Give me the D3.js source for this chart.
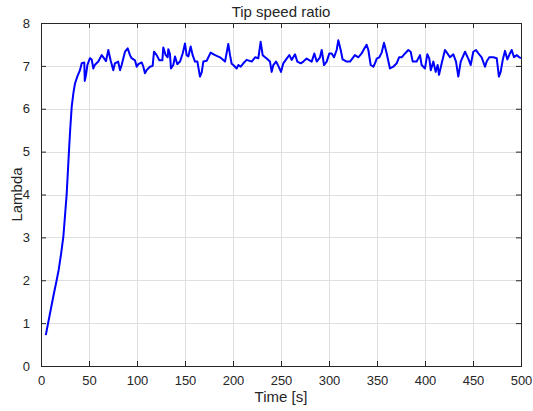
<!DOCTYPE html>
<html>
<head>
<meta charset="utf-8">
<script src="https://cdn.jsdelivr.net/npm/d3@7"></script>
<style>
  body { margin: 0; background: #fff; }
  text { font-family: "Liberation Sans", Arial, sans-serif; fill: #262626; }
</style>
</head>
<body>
<div id="chart"></div>
<script>
// series
const timeS = [5, 9.4, 12.8, 16.3, 18.4, 20.8, 23.3, 26.7, 29.2, 30.5, 32, 33.7, 35.4, 37.8, 40.6, 42.4, 45.1, 45.6, 46.9, 48.3,
  51, 52.8, 54.5, 56, 59.7, 63.2, 65.6, 67.7, 70.1, 72.5, 75.3, 77, 80.4, 82.3, 84, 87.5, 90.3, 92.7, 94.4, 97.9,
  99.7, 101.4, 104.9, 106.6, 108.3, 110, 113.5, 116.3, 117.7, 120.5, 123.3, 126.4, 127.4, 129.9, 132, 132.6, 134.3, 135.4, 137.8, 139.6,
  142, 144.8, 147.6, 150, 151.7, 153.5, 155.9, 158, 160.4, 162.9, 165.6, 167.4, 169.1, 172.6, 176.7, 181.3, 186.5, 191.7, 195.1, 196.9,
  198.6, 200.3, 203.8, 205.6, 208, 210.8, 214.2, 219.5, 223, 226.4, 228.8, 230.9, 235.1, 238.5, 240.3, 242, 244.8, 247.2, 250, 252.4,
  255.9, 258.7, 261.1, 264.6, 267, 270.5, 273.3, 276.7, 282, 284.7, 287.2, 290.6, 292.4, 294.8, 297.6, 300.3, 302.8, 305.2, 308, 309.7,
  312.2, 314.2, 318.4, 321.9, 327, 330.5, 334, 336.4, 339.2, 341, 343.4, 346.2, 347.9, 349.7, 352.4, 354.9, 357.3, 360.1, 363.5, 367,
  370.5, 373, 375.7, 379.2, 382.6, 385.1, 387.2, 391.3, 394.8, 396.5, 400, 402.4, 404.5, 406, 408.7, 411.1, 413.2, 414.6, 417.4, 420.8,
  423.3, 426, 429.5, 432.3, 434.7, 437.2, 441.7, 445.1, 447.6, 450.3, 453.1, 455.6, 459, 462.5, 464.2, 467, 471.2, 474.7, 477, 478.8,
  480.9, 483.3, 485.8, 488.5, 490.3, 492.7, 495.5, 498.3, 500];
const lambda = [0.72, 1.23, 1.62, 2.0, 2.24, 2.6, 3.02, 3.99, 5.04, 5.55, 6.05, 6.36, 6.59, 6.75, 6.9, 7.06, 7.08, 6.65, 6.79, 7.02,
  7.18, 7.15, 6.94, 7.02, 7.1, 7.25, 7.18, 7.11, 7.37, 7.13, 6.9, 7.06, 7.1, 6.9, 7.02, 7.33, 7.41, 7.25, 7.18, 7.13,
  6.98, 7.04, 7.08, 6.98, 6.83, 6.9, 6.98, 7.0, 7.33, 7.25, 7.13, 7.13, 7.43, 7.25, 7.2, 7.39, 7.28, 6.94, 7.02, 7.22,
  7.04, 7.1, 7.29, 7.52, 7.25, 7.22, 7.45, 7.25, 7.1, 7.1, 6.75, 6.85, 7.1, 7.12, 7.31, 7.25, 7.2, 7.1, 7.51, 7.25,
  7.05, 7.02, 6.94, 7.02, 6.98, 7.06, 7.14, 7.1, 7.2, 7.18, 7.56, 7.25, 7.17, 7.1, 6.86, 7.02, 7.1, 7.0, 6.86, 7.06,
  7.17, 7.25, 7.14, 7.27, 7.1, 7.06, 7.1, 7.17, 7.1, 7.29, 7.1, 7.2, 7.37, 7.02, 7.1, 7.29, 7.29, 7.2, 7.37, 7.6,
  7.37, 7.15, 7.1, 7.1, 7.25, 7.2, 7.29, 7.39, 7.49, 7.37, 7.02, 6.98, 7.06, 7.17, 7.2, 7.31, 7.54, 7.29, 6.94, 6.98,
  7.06, 7.2, 7.2, 7.29, 7.37, 7.33, 7.1, 7.1, 7.25, 7.02, 6.94, 7.27, 7.17, 6.9, 7.1, 6.86, 7.02, 6.79, 7.06, 7.37,
  7.29, 7.2, 7.27, 7.1, 6.75, 7.1, 7.33, 7.17, 7.02, 7.33, 7.37, 7.29, 7.2, 6.98, 7.1, 7.2, 7.2, 7.18, 6.75, 6.86,
  7.13, 7.35, 7.15, 7.29, 7.37, 7.2, 7.25, 7.2, 7.18];
const xTicks = [0, 50, 100, 150, 200, 250, 300, 350, 400, 450, 500];
const yTicks = [0, 1, 2, 3, 4, 5, 6, 7, 8];

const width = 533, height = 411;
const margin = { top: 23, right: 12, bottom: 45, left: 41 };

const svg = d3.select('#chart').append('svg')
  .attr('width', width)
  .attr('height', height);

const x = d3.scaleLinear().domain([0, 500]).range([margin.left, width - margin.right]);
const y = d3.scaleLinear().domain([0, 8]).range([height - margin.bottom, margin.top]);

const x0 = x.range()[0], x1 = x.range()[1];
const y0 = y.range()[0], y1 = y.range()[1];

// grid
const grid = svg.append('g').attr('stroke', '#dfdfdf').attr('stroke-width', 1).attr('shape-rendering', 'crispEdges');
grid.selectAll('.gx').data(xTicks.slice(1, -1)).join('line')
  .attr('x1', d => Math.round(x(d)) + 0.5).attr('x2', d => Math.round(x(d)) + 0.5)
  .attr('y1', y1).attr('y2', y0);
grid.selectAll('.gy').data(yTicks.slice(1, -1)).join('line')
  .attr('y1', d => Math.round(y(d)) + 0.5).attr('y2', d => Math.round(y(d)) + 0.5)
  .attr('x1', x0).attr('x2', x1);

// line
const pts = timeS.map((t, i) => [t, lambda[i]]);
const line = d3.line().x(d => x(d[0])).y(d => y(d[1]));
svg.append('path')
  .datum(pts)
  .attr('fill', 'none')
  .attr('stroke', '#0000ff')
  .attr('stroke-width', 2)
  .attr('stroke-linejoin', 'round')
  .attr('d', line);

// axes with inward ticks, box on
const tickLen = 5;
const axisStyle = g => {
  g.select('.domain').remove();
  g.selectAll('.tick line').attr('stroke', '#262626');
  g.selectAll('.tick text').attr('font-size', 13).attr('fill', '#262626')
    .attr('font-family', '"Liberation Sans", Arial, sans-serif');
};

svg.append('g')
  .attr('transform', `translate(0,${y0})`)
  .call(d3.axisBottom(x).tickValues(xTicks).tickSizeInner(-tickLen).tickSizeOuter(0).tickPadding(10))
  .call(axisStyle);
svg.append('g')
  .attr('transform', `translate(0,${y1})`)
  .call(d3.axisTop(x).tickValues(xTicks).tickSizeInner(-tickLen).tickSizeOuter(0).tickFormat(''))
  .call(axisStyle);
svg.append('g')
  .attr('transform', `translate(${x0},0)`)
  .call(d3.axisLeft(y).tickValues(yTicks).tickSizeInner(-tickLen).tickSizeOuter(0).tickPadding(11))
  .call(axisStyle);
svg.append('g')
  .attr('transform', `translate(${x1},0)`)
  .call(d3.axisRight(y).tickValues(yTicks).tickSizeInner(-tickLen).tickSizeOuter(0).tickFormat(''))
  .call(axisStyle);

// box
svg.append('rect')
  .attr('x', x0 + 0.5).attr('y', y1 + 0.5)
  .attr('width', x1 - x0).attr('height', y0 - y1)
  .attr('fill', 'none').attr('stroke', '#262626').attr('stroke-width', 1)
  .attr('shape-rendering', 'crispEdges');

// title and labels
svg.append('text')
  .attr('x', (x0 + x1) / 2).attr('y', 17)
  .attr('text-anchor', 'middle').attr('font-size', 15)
  .text('Tip speed ratio');
svg.append('text')
  .attr('x', (x0 + x1) / 2).attr('y', 402)
  .attr('text-anchor', 'middle').attr('font-size', 15)
  .text('Time [s]');
svg.append('text')
  .attr('transform', `translate(22,${(y0 + y1) / 2}) rotate(-90)`)
  .attr('text-anchor', 'middle').attr('font-size', 15)
  .text('Lambda');
</script>
</body>
</html>
